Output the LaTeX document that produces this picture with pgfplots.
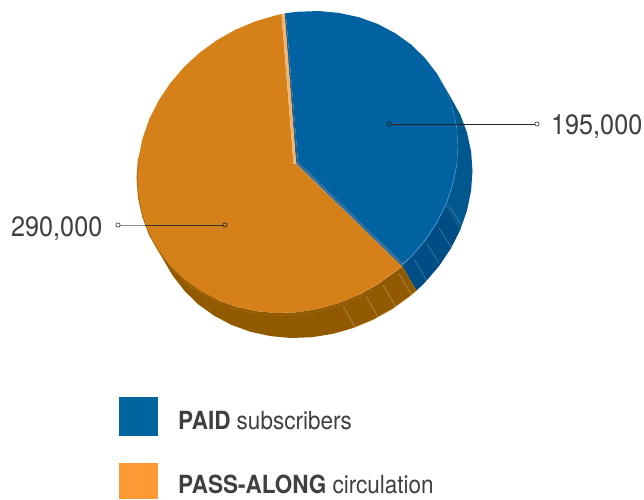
\documentclass[border=0pt]{standalone}
\usepackage{fontspec}
\setmainfont{TeX Gyre Heros}[FakeStretch=0.9]
\usepackage{pgfplots}
\pgfplotsset{compat=1.18}
\definecolor{paidtop}{HTML}{0062A1}
\definecolor{paidside}{HTML}{004C84}
\definecolor{paidsidehi}{HTML}{00588F}
\definecolor{paidedge}{HTML}{4A94CC}
\definecolor{passtop}{HTML}{D58018}
\definecolor{passside}{HTML}{925A00}
\definecolor{passrim}{HTML}{AE6A0A}
\definecolor{passlight}{HTML}{F2B46E}
\definecolor{gapline}{HTML}{2F5F7F}
\definecolor{swatchblue}{HTML}{00659F}
\definecolor{swatchorange}{HTML}{FF9933}
\definecolor{txt}{HTML}{404040}
\begin{document}
\begin{tikzpicture}
\begin{axis}[
  scale only axis,
  width=644pt,
  height=499pt,
  xmin=0, xmax=644,
  ymin=0, ymax=499,
  y dir=reverse,
  hide axis,
  clip=false,
]
% page area
\addplot[fill=white,draw=none] coordinates {(0,0)(644,0)(644,499)(0,499)};

% rim, blue part
\addplot[fill=paidsidehi,draw=none] coordinates {
  (436.5,73)(445.8,89.7)(452.5,107.6)(456.6,126.5)(458,146)(456.6,165.7)(452.5,185.4)(445.8,204.7)
  (460.3,229.7)(467,210.4)(471.1,190.7)(472.5,171)(471.1,151.5)(467,132.6)(460.3,114.7)(451,98)};
\addplot[fill=paidside,draw=none] coordinates {
  (445.8,204.7)(436.5,223.2)(424.8,240.7)(411,256.9)(402,265.6)
  (416.5,290.6)(425.5,281.9)(439.3,265.7)(451,248.2)(460.3,229.7)};
% rim, orange part
\addplot[fill=passside,draw=none] coordinates {
  (402,265.6)(395.2,271.4)(377.8,284)(358.9,294.6)(339,302.9)(318.5,308.8)(297.5,312.2)(276.5,313)
  (256,311.1)(236.1,306.8)(217.2,300)(199.8,290.8)(184,279.5)(170.2,266.1)(155.8,246.6)
  (170.3,271.6)(173,276)(184.7,291.1)(198.5,304.5)(214.3,315.8)(231.7,325)(250.6,331.8)(270.5,336.1)
  (291,338)(312,337.2)(333,333.8)(353.5,327.9)(373.4,319.6)(392.3,309)(409.7,296.4)(416.5,290.6)};

% rim segment lines
\addplot[white,opacity=0.3,line width=0.5pt] coordinates {(449,206)(462,226)};
\addplot[white,opacity=0.3,line width=0.5pt] coordinates {(439,228)(451,247)};
\addplot[white,opacity=0.3,line width=0.5pt] coordinates {(427,244)(439,263)};
\addplot[white,opacity=0.3,line width=0.5pt] coordinates {(414,259)(427,281)};
\addplot[white,opacity=0.35,line width=0.5pt] coordinates {(399,274)(411,294)};
\addplot[white,opacity=0.35,line width=0.5pt] coordinates {(383,285)(396,307)};
\addplot[white,opacity=0.35,line width=0.5pt] coordinates {(366,296)(378,317)};
\addplot[white,opacity=0.35,line width=0.5pt] coordinates {(343,306)(355,327)};
\addplot[passlight,opacity=0.6,line width=0.4pt,densely dotted] coordinates {
  (373,290)(358.9,297)(339,305.4)(318.5,311.3)(297.5,314.7)(276.5,315.5)(256,313.6)(236.1,309.3)(217.2,302.5)(199.8,293.3)(184,282)};
\addplot[passlight,opacity=0.7,line width=0.4pt] coordinates {
  (416.5,290.6)(409.7,296.4)(392.3,309)(373.4,319.6)(353.5,327.9)};

% gap between the slices
\addplot[fill=gapline,draw=none] coordinates {(284.5,13.5)(285.8,13.2)(298,161.5)(296,163)};
\addplot[fill=paidedge!75!black,draw=none] coordinates {(296,163.5)(402,266.5)(403,263.5)(298,161.5)};

% top faces
\addplot[fill=paidtop,draw=none] coordinates {
  (285.8,13.2)(297.5,11.8)(318.5,11)(339,12.9)(358.9,17.2)(377.8,24)(395.2,33.2)(411,44.5)(424.8,57.9)
  (436.5,73)(445.8,89.7)(452.5,107.6)(456.6,126.5)(458,146)(456.6,165.7)(452.5,185.4)(445.8,204.7)
  (436.5,223.2)(424.8,240.7)(411,256.9)(403,263.5)(298,161.5)};
\addplot[fill=passtop,draw=none] coordinates {
  (402,266.5)(395.2,271.4)(377.8,284)(358.9,294.6)(339,302.9)(318.5,308.8)(297.5,312.2)(276.5,313)
  (256,311.1)(236.1,306.8)(217.2,300)(199.8,290.8)(184,279.5)(170.2,266.1)(158.5,251)(149.2,234.3)
  (142.5,216.4)(138.4,197.5)(137,178)(138.4,158.3)(142.5,138.6)(149.2,119.3)(158.5,100.8)(170.2,83.3)
  (184,67.1)(199.8,52.6)(217.2,40)(236.1,29.4)(256,21.1)(276.5,15.2)(281.5,14)(293.5,163.5)(295.5,163.5)};
\addplot[fill=passlight,draw=none] coordinates {(281.5,14)(284.5,13.5)(296,163)(293.5,163.5)};

% edge highlights
\addplot[paidedge,opacity=0.45,line width=0.7pt] coordinates {
  (452.5,107.6)(456.6,126.5)(458,146)(456.6,165.7)};
\addplot[paidedge,line width=0.8pt] coordinates {
  (456.6,165.7)(452.5,185.4)(445.8,204.7)(436.5,223.2)(424.8,240.7)(411,256.9)(403,263.5)};
\addplot[passrim,line width=0.9pt] coordinates {
  (217.2,300)(199.8,290.8)(184,279.5)(170.2,266.1)(158.5,251)(149.2,234.3)(142.5,216.4)(138.4,197.5)(137,178)(138.4,158.3)};
\addplot[passlight,opacity=0.5,line width=0.7pt] coordinates {
  (402,266.5)(395.2,271.4)(377.8,284)(358.9,294.6)};

% leader lines
\addplot[black!85,line width=0.7pt] coordinates {(389,124)(537,124)};
\addplot[black!45,line width=0.7pt] coordinates {(118,225)(145,225)};
\addplot[black!80,line width=0.7pt] coordinates {(145,225)(225,225)};
\addplot[only marks,mark=*,mark size=2.1pt,mark options={fill=paidtop,draw=black!85,line width=0.7pt}] coordinates {(389,124)};
\addplot[only marks,mark=*,mark size=2.1pt,mark options={fill=passtop,draw=black!85,line width=0.7pt}] coordinates {(225,225)};
\addplot[only marks,mark=*,mark size=2.1pt,mark options={fill=white,draw=black!75,line width=0.7pt}] coordinates {(537,124)(118,225)};

% legend swatches
\addplot[fill=swatchblue,draw=none] coordinates {(119,397)(158,397)(158,436)(119,436)};
\addplot[fill=swatchorange,draw=none] coordinates {(119,463)(158,463)(158,499)(119,499)};

% labels
\node[anchor=base west,inner sep=0pt,text=txt,font=\fontsize{28}{28}\selectfont] at (axis cs:551,134) {195,000};
\node[anchor=base west,inner sep=0pt,text=txt,font=\fontsize{28}{28}\selectfont] at (axis cs:11,236) {290,000};
\node[anchor=base west,inner sep=0pt,text=txt,font=\fontsize{25}{25}\selectfont] at (axis cs:178,429) {\textbf{PAID} subscribers};
\node[anchor=base west,inner sep=0pt,text=txt,font=\fontsize{25}{25}\selectfont] at (axis cs:178,493) {\textbf{PASS-ALONG} circulation};
\end{axis}
\end{tikzpicture}
\end{document}
